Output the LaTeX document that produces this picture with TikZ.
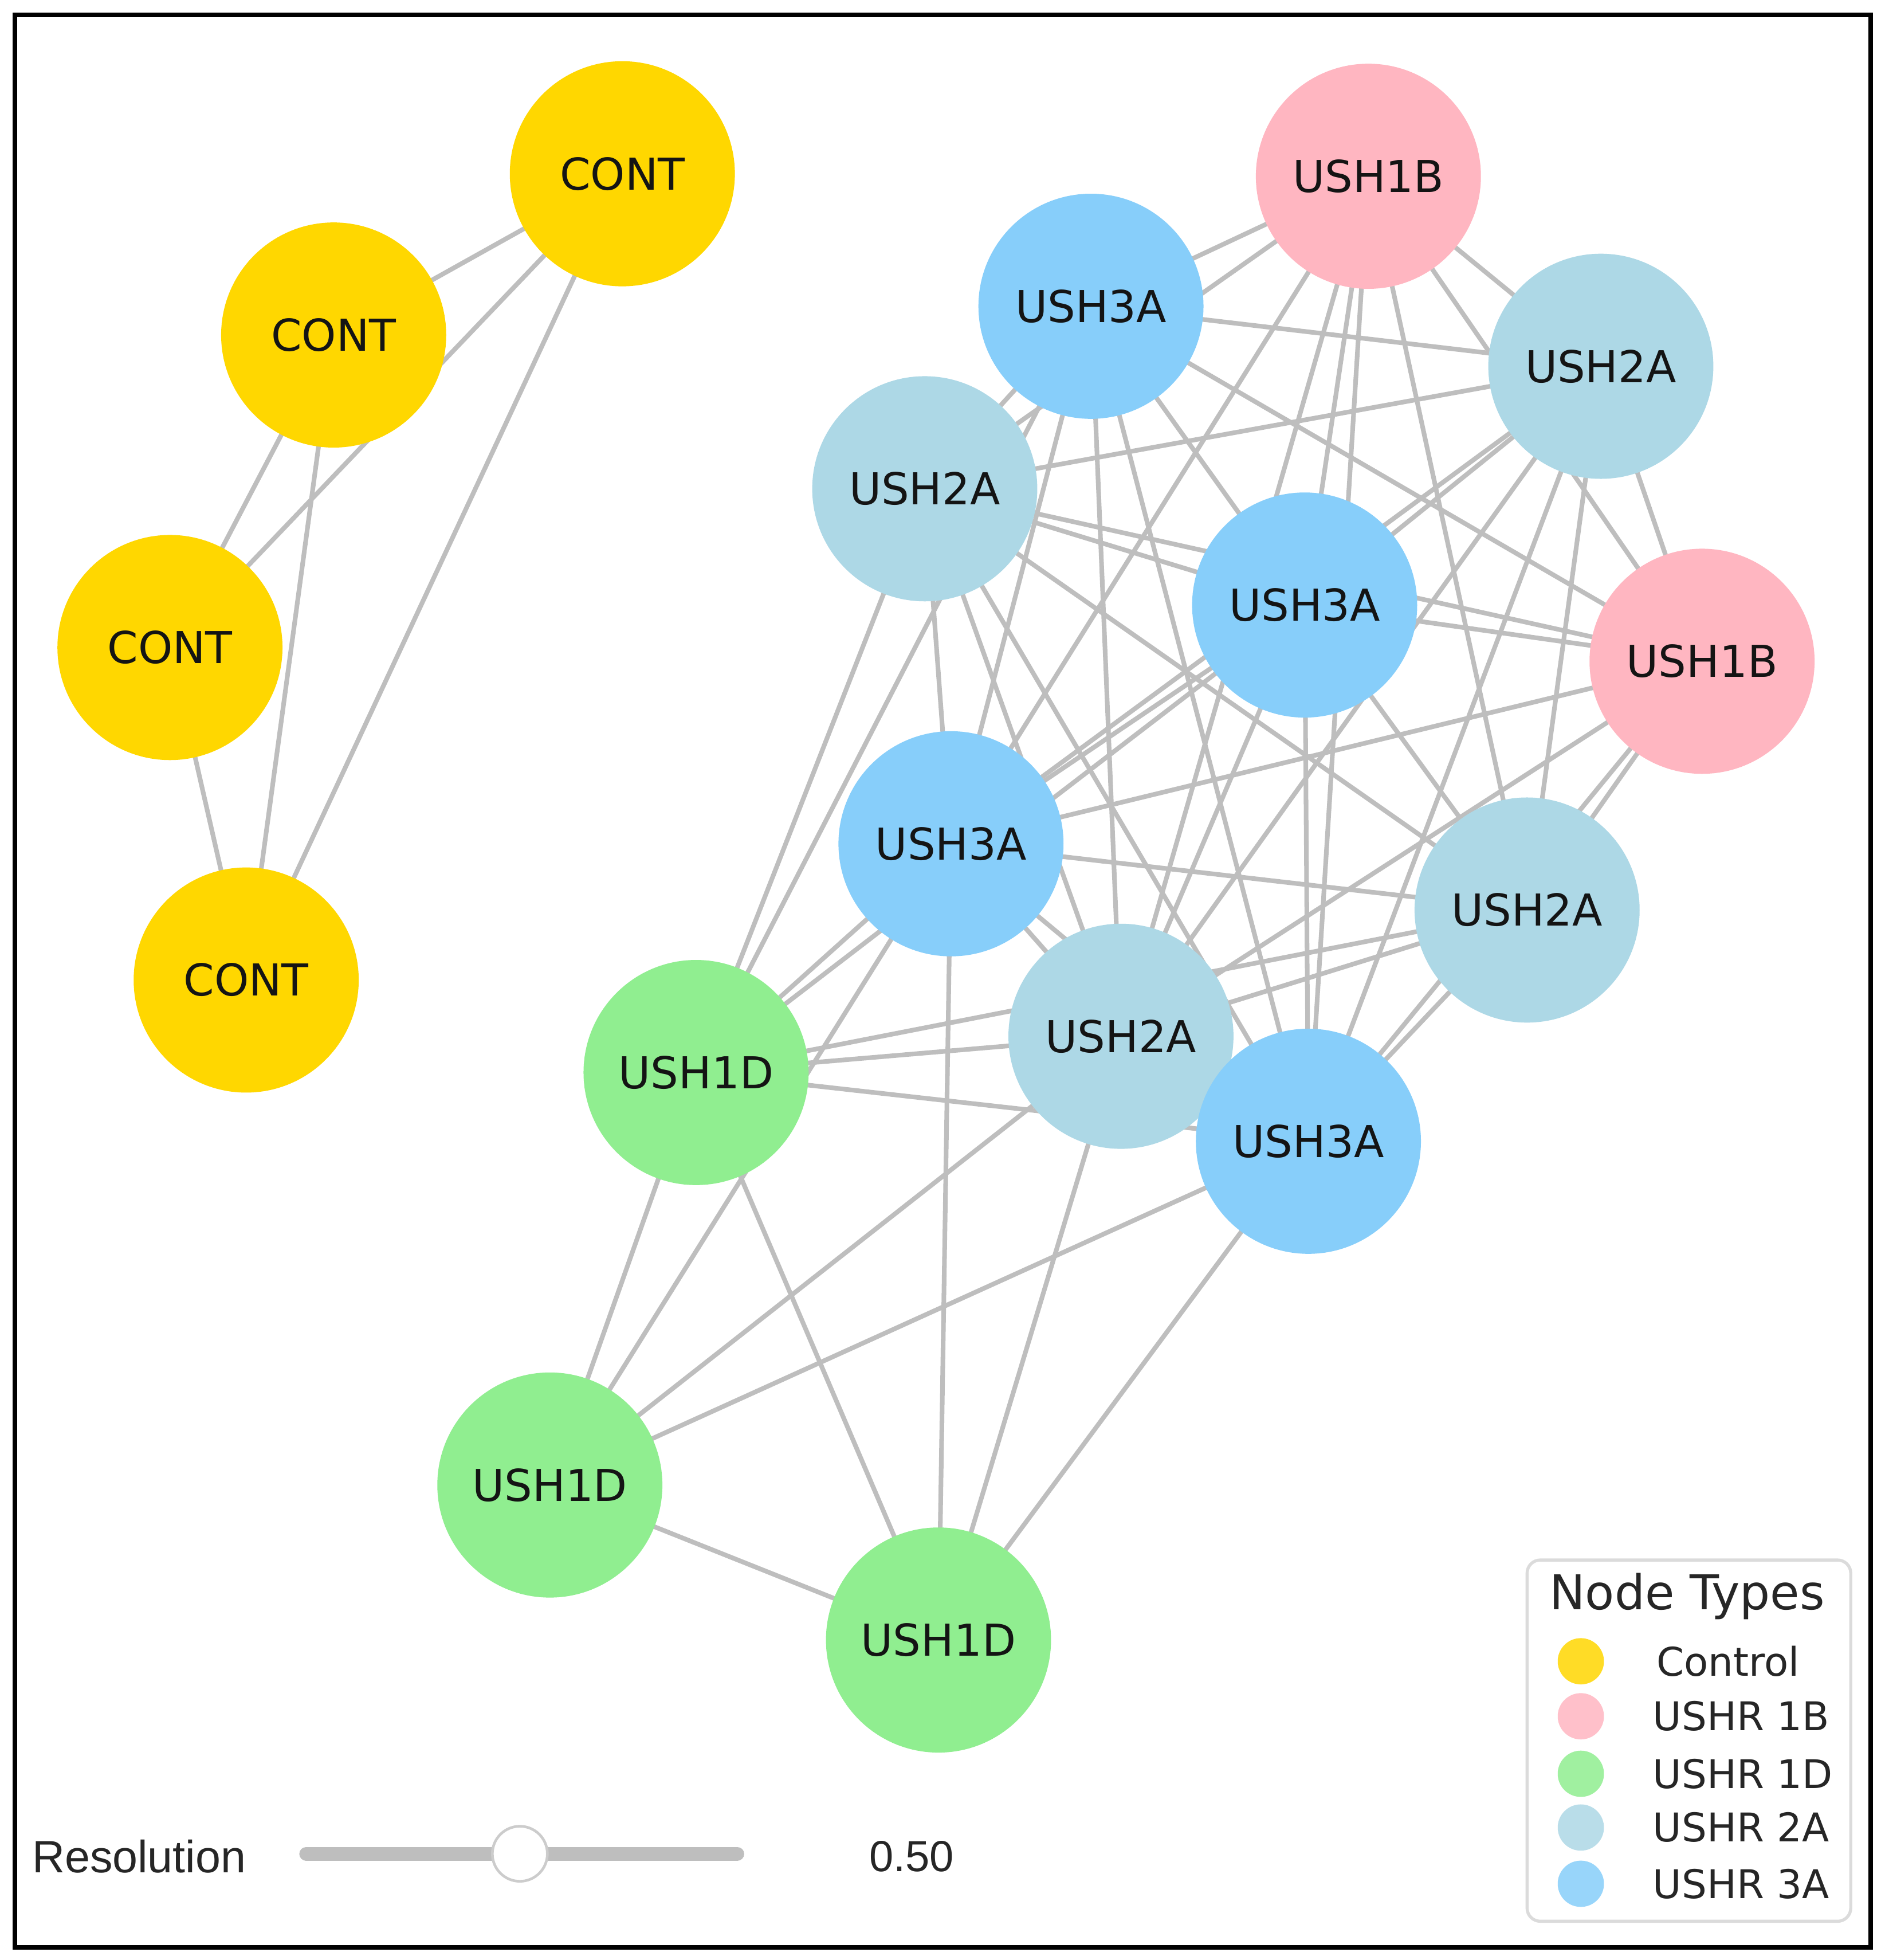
\documentclass[tikz,border=0pt]{standalone}
\usepackage{fontspec}
\newfontfamily\nodefont{DejaVu Sans}
\newfontfamily\uifont{Liberation Sans}
\usetikzlibrary{backgrounds}
\definecolor{cont}{HTML}{FFD700}
\definecolor{ushb}{HTML}{FFB6C1}
\definecolor{ushd}{HTML}{90EE90}
\definecolor{usha}{HTML}{ADD8E6}
\definecolor{ushc}{HTML}{87CEFA}
\definecolor{edgegray}{RGB}{190,190,190}
\begin{document}
\begin{tikzpicture}[x=0.01cm,y=-0.01cm,
  gnode/.style={circle, minimum size=1.8cm, inner sep=0pt, draw=none,
    font=\nodefont\fontsize{10}{11}\selectfont, text=black!92},
  edge/.style={draw=edgegray, line width=1.05pt},
  lgmark/.style={circle, minimum size=0.37cm, inner sep=0pt, draw=none, fill opacity=0.85},
  lgtext/.style={anchor=west, inner sep=0pt, font=\nodefont\fontsize{9}{11}\selectfont, text=black!85}]
\useasboundingbox (0,0) rectangle (1508,1568);

% control nodes
\node[gnode, fill=cont] (C1) at (498,139) {CONT};
\node[gnode, fill=cont] (C2) at (267,268) {CONT};
\node[gnode, fill=cont] (C3) at (136,518) {CONT};
\node[gnode, fill=cont] (C4) at (197,784) {CONT};
% right cluster
\node[gnode, fill=ushb] (P1) at (1095,141) {USH1B};
\node[gnode, fill=ushc] (B1) at (873,245) {USH3A};
\node[gnode, fill=usha] (L1) at (1281,293) {USH2A};
\node[gnode, fill=usha] (L2) at (740,391) {USH2A};
\node[gnode, fill=ushc] (B2) at (1044,484) {USH3A};
\node[gnode, fill=ushb] (P2) at (1362,529) {USH1B};
\node[gnode, fill=ushc] (B3) at (761,675) {USH3A};
\node[gnode, fill=usha] (L3) at (1222,728) {USH2A};
\node[gnode, fill=ushd] (G1) at (557,858) {USH1D};
\node[gnode, fill=usha] (L4) at (897,829) {USH2A};
\node[gnode, fill=ushc] (B4) at (1047,913) {USH3A};
\node[gnode, fill=ushd] (G2) at (440,1188) {USH1D};
\node[gnode, fill=ushd] (G3) at (751,1312) {USH1D};

\begin{pgfonlayer}{background}
  \fill[white] (0,0) rectangle (1508,1568);
  \foreach \a/\b in {C1/C2, C1/C3, C1/C4, C2/C3, C2/C4, C3/C4,
    P1/B1, P1/L2, P1/B3, P1/L4, P1/B2, P1/B4, P1/L3, P1/P2, P1/L1,
    B1/L1, B1/P2, B1/B2, B1/B4, B1/L4, B1/B3, B1/G1, B1/L2,
    L1/L2, L1/B2, L1/B3, L1/L4, L1/B4, L1/L3, L1/P2,
    L2/B2, L2/P2, L2/L3, L2/B4, L2/L4, L2/B3, L2/G1,
    B2/P2, B2/B3, B2/L3, B2/B4, B2/L4, B2/G1,
    P2/B3, P2/L4, P2/B4, P2/L3,
    B3/L3, B3/L4, B3/B4, B3/G1, B3/G2, B3/G3,
    L3/B4, L3/G1, L3/L4,
    G1/L4, G1/B4, G1/G2, G1/G3,
    L4/B4, L4/G2, L4/G3,
    B4/G2, B4/G3, G2/G3}
    \draw[edge] (\a.center) -- (\b.center);
\end{pgfonlayer}

% frame
\draw[line width=1.1pt] (12,12) rectangle (1497,1558);

% legend
\draw[draw=black!14, line width=0.7pt, rounded corners=3pt, fill=white] (1222,1248) rectangle (1481,1537);
\node[inner sep=0pt, font=\nodefont\fontsize{10.9}{12}\selectfont, text=black!85] (lgT) at (1350,1277) {Node Types};
\node[lgmark, fill=cont] (m1) at (1265,1329) {};
\node[lgmark, fill=ushb] (m2) at (1265,1373) {};
\node[lgmark, fill=ushd] (m3) at (1265,1419) {};
\node[lgmark, fill=usha] (m4) at (1265,1462) {};
\node[lgmark, fill=ushc] (m5) at (1265,1507) {};
\node[lgtext] (t1) at (1325,1329) {Control};
\node[lgtext] (t2) at (1322,1373) {USHR 1B};
\node[lgtext] (t3) at (1322,1419) {USHR 1D};
\node[lgtext] (t4) at (1322,1462) {USHR 2A};
\node[lgtext] (t5) at (1322,1507) {USHR 3A};

% slider
\draw[edgegray, line width=0.11cm, line cap=round] (245,1483) -- (590,1483);
\node[circle, draw=black!20, fill=white, minimum size=0.44cm, inner sep=0pt, line width=0.6pt] (thumb) at (416,1483) {};
\node[anchor=west, inner sep=0pt, font=\uifont\fontsize{10.3}{12}\selectfont, text=black!85] (res) at (25,1485) {Resolution};
\node[anchor=west, inner sep=0pt, font=\uifont\fontsize{9.9}{12}\selectfont, text=black!85] (val) at (695,1485) {0.50};
\end{tikzpicture}
\end{document}
